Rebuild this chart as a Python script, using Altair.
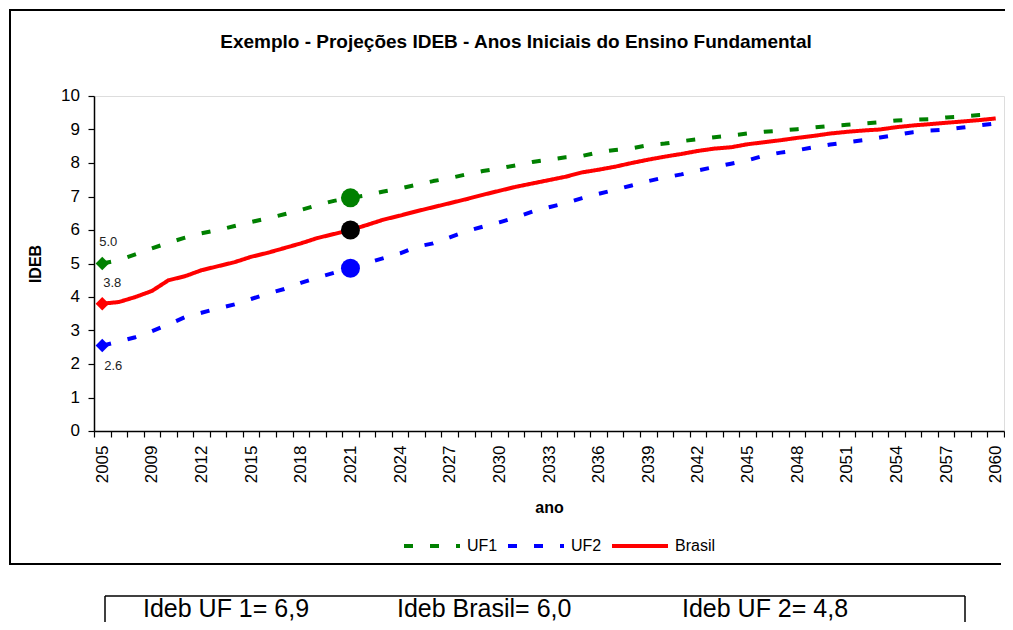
import altair as alt
import pandas as pd

# ---------------- data ----------------
years = ["2005", "2007", "2008"] + [str(y) for y in range(2009, 2061)]
tick_labels = ["2005", "2009", "2012", "2015", "2018", "2021", "2024", "2027",
               "2030", "2033", "2036", "2039", "2042", "2045", "2048", "2051",
               "2054", "2057", "2060"]
y_ticks = [0, 1, 2, 3, 4, 5, 6, 7, 8, 9, 10]

series_names = ["UF1", "UF2", "Brasil"]
series_colors = ["#008000", "#0000FF", "#FF0000"]

uf1 = [5.00, 5.10, 5.27, 5.45, 5.62, 5.77, 5.90, 6.00, 6.12, 6.24, 6.35, 6.47, 6.60, 6.74, 6.87,
       6.96, 7.04, 7.15, 7.24, 7.35, 7.46, 7.55, 7.66, 7.76, 7.84,
       7.93, 8.03, 8.10, 8.17, 8.21, 8.32, 8.39, 8.44, 8.53, 8.58,
       8.65, 8.71, 8.77, 8.82, 8.88, 8.93, 8.97, 9.01, 9.06, 9.11,
       9.14, 9.18, 9.22, 9.27, 9.29, 9.31, 9.36, 9.39, 9.43, 9.46]
uf2 = [2.55, 2.67, 2.80, 2.98, 3.18, 3.40, 3.53, 3.66, 3.78, 3.94, 4.10, 4.24, 4.42, 4.58, 4.72,
       4.86, 5.02, 5.16, 5.30, 5.50, 5.60, 5.78, 5.96, 6.10, 6.23,
       6.38, 6.55, 6.68, 6.80, 6.95, 7.08, 7.20, 7.33, 7.46, 7.57,
       7.66, 7.78, 7.88, 7.98, 8.08, 8.22, 8.31, 8.38, 8.47, 8.55,
       8.62, 8.68, 8.76, 8.84, 8.92, 8.97, 9.00, 9.06, 9.12, 9.18]
brasil = [3.80, 3.85, 4.00, 4.18, 4.50, 4.62, 4.80, 4.92, 5.04, 5.20, 5.32, 5.46, 5.60, 5.76, 5.88,
          6.00, 6.15, 6.31, 6.43, 6.56, 6.68, 6.80, 6.92, 7.05, 7.17,
          7.29, 7.39, 7.49, 7.59, 7.72, 7.80, 7.89, 8.00, 8.10, 8.19,
          8.27, 8.36, 8.43, 8.47, 8.56, 8.62, 8.68, 8.75, 8.81, 8.88,
          8.93, 8.97, 9.00, 9.07, 9.12, 9.16, 9.20, 9.24, 9.28, 9.33]

start_labels = ["5.0", "2.6", "3.8"]          # UF1, UF2, Brasil at 2005
target_year = "2021"
target_dot_colors = ["#008000", "#0000FF", "#000000"]
summary_texts = ["Ideb UF 1= 6,9", "Ideb Brasil= 6,0", "Ideb UF 2= 4,8"]
title_text = "Exemplo - Projeções IDEB - Anos Iniciais do Ensino Fundamental"

# ---------------- tables ----------------
values_by_series = [uf1, uf2, brasil]
rows = []
for name, vals in zip(series_names, values_by_series):
    for yr, v in zip(years, vals):
        rows.append({"ano": yr, "serie": name, "IDEB": v})
df = pd.DataFrame(rows)

start_df = pd.DataFrame([
    {"ano": years[0], "serie": n, "IDEB": vals[0], "rotulo": lab}
    for n, vals, lab in zip(series_names, values_by_series, start_labels)
])
ti = years.index(target_year)
dot_df = pd.DataFrame([
    {"ano": target_year, "serie": n, "IDEB": vals[ti], "cor": c}
    for n, vals, c in zip(series_names, values_by_series, target_dot_colors)
])
ytick_df = pd.DataFrame({"IDEB": y_ticks})

FONT = "Liberation Sans, Arial, sans-serif"
W, H = 910, 335

label_list = "[" + ",".join("'%s'" % t for t in tick_labels) + "]"

x_enc = alt.X(
    "ano:O", sort=years,
    scale=alt.Scale(type="band", paddingInner=0, paddingOuter=0, domain=years),
    axis=alt.Axis(
        title="ano", titleFontSize=16, titleFontWeight="bold", titleColor="black",
        titlePadding=17, titleFont=FONT,
        labelAngle=-90, labelFontSize=17, labelColor="black", labelFont=FONT,
        labelExpr="indexof(%s, datum.value) >= 0 ? datum.value : ''" % label_list,
        labelOverlap=False, labelPadding=8,
        tickBand="extent", tickSize=6, tickColor="black", tickWidth=1.2,
        domainColor="black", domainWidth=1.5, grid=False,
    ),
)
y_enc = alt.Y(
    "IDEB:Q",
    scale=alt.Scale(domain=[0, 10], nice=False),
    axis=alt.Axis(
        title="IDEB", titleFontSize=16, titleFontWeight="bold", titleColor="black",
        titlePadding=44, titleFont=FONT,
        values=y_ticks, labels=False, tickSize=6, tickColor="black", tickWidth=1.2,
        domainColor="black", domainWidth=1.5, grid=False,
    ),
)

color_scale = alt.Scale(domain=series_names, range=series_colors)
dash_scale = alt.Scale(domain=series_names, range=[[9, 17], [9, 17], [1, 0]])
legend = alt.Legend(
    title=None, orient="none", direction="horizontal", legendX=308, legendY=420,
    labelFontSize=16, labelFont=FONT, labelColor="black", labelOffset=5,
    symbolType="stroke", symbolSize=3136, symbolStrokeWidth=4,
    columnPadding=2, padding=0,
)

lines = alt.Chart(df).mark_line(strokeWidth=4, strokeCap="butt", strokeJoin="round").encode(
    x=x_enc, y=y_enc,
    color=alt.Color("serie:N", scale=color_scale, legend=legend),
    strokeDash=alt.StrokeDash("serie:N", scale=dash_scale, legend=legend),
    order=alt.Order("ano:O"),
)

diamonds = alt.Chart(start_df).mark_point(shape="diamond", filled=True, size=180, opacity=1).encode(
    x=x_enc, y=y_enc,
    color=alt.Color("serie:N", scale=color_scale, legend=None),
)

dots = alt.Chart(dot_df).mark_circle(size=360, opacity=1).encode(
    x=x_enc, y=y_enc,
    fill=alt.Fill("cor:N", scale=None),
)

# y tick labels, placed through the y scale
ylabels = alt.Chart(ytick_df).mark_text(fontSize=17, font=FONT, color="black",
                                        align="right", baseline="middle").encode(
    x=alt.value(-14), y=y_enc, text=alt.Text("IDEB:Q", format="d"))

label_offsets = {"UF1": (6, -22), "Brasil": (10, -21), "UF2": (11, 20)}
label_layers = []
for n in series_names:
    dx, dy = label_offsets[n]
    label_layers.append(
        alt.Chart(start_df).transform_filter(alt.datum.serie == n)
        .mark_text(fontSize=13, font=FONT, color="#222222", dx=dx, dy=dy)
        .encode(x=x_enc, y=y_enc, text="rotulo:N")
    )

one = alt.InlineData(values=[{"k": 0}])


def hrule(x1, x2, y, w):
    return alt.Chart(one).mark_rule(color="black", strokeWidth=w).encode(
        x=alt.value(x1), x2=alt.value(x2), y=alt.value(y))


def vrule(x, y1, y2, w):
    return alt.Chart(one).mark_rule(color="black", strokeWidth=w).encode(
        x=alt.value(x), y=alt.value(y1), y2=alt.value(y2))


# outer chart frame (right side lies beyond the picture) and summary box (bottom beyond)
frame = [hrule(-85, W + 1, -86, 2), hrule(-85, W - 3, 468, 2), vrule(-84, -87, 469, 2)]
box = [hrule(11, 871, 500, 1.5), vrule(11, 500, 530, 1.5), vrule(871, 500, 530, 1.5)]

title = alt.Chart(one).mark_text(text=title_text, fontSize=19, fontWeight="bold", font=FONT,
                                 color="black", align="center", baseline="middle").encode(
    x=alt.value(422), y=alt.value(-54))
summary_x = [49, 303, 588]
summary_layers = [
    alt.Chart(one).mark_text(text=t, fontSize=25, font=FONT, color="black",
                             align="left", baseline="alphabetic").encode(
        x=alt.value(sx), y=alt.value(521))
    for t, sx in zip(summary_texts, summary_x)
]

chart = alt.layer(*frame, *box, title, lines, diamonds, dots, ylabels,
                  *label_layers, *summary_layers).properties(
    width=W, height=H,
    autosize=alt.AutoSizeParams(type="none"),
    padding={"left": 86, "top": 88, "right": 1, "bottom": 191},
).configure_view(stroke=None).configure(background="white")

chart.save("out.html", embed_options={"renderer": "svg", "actions": False})
